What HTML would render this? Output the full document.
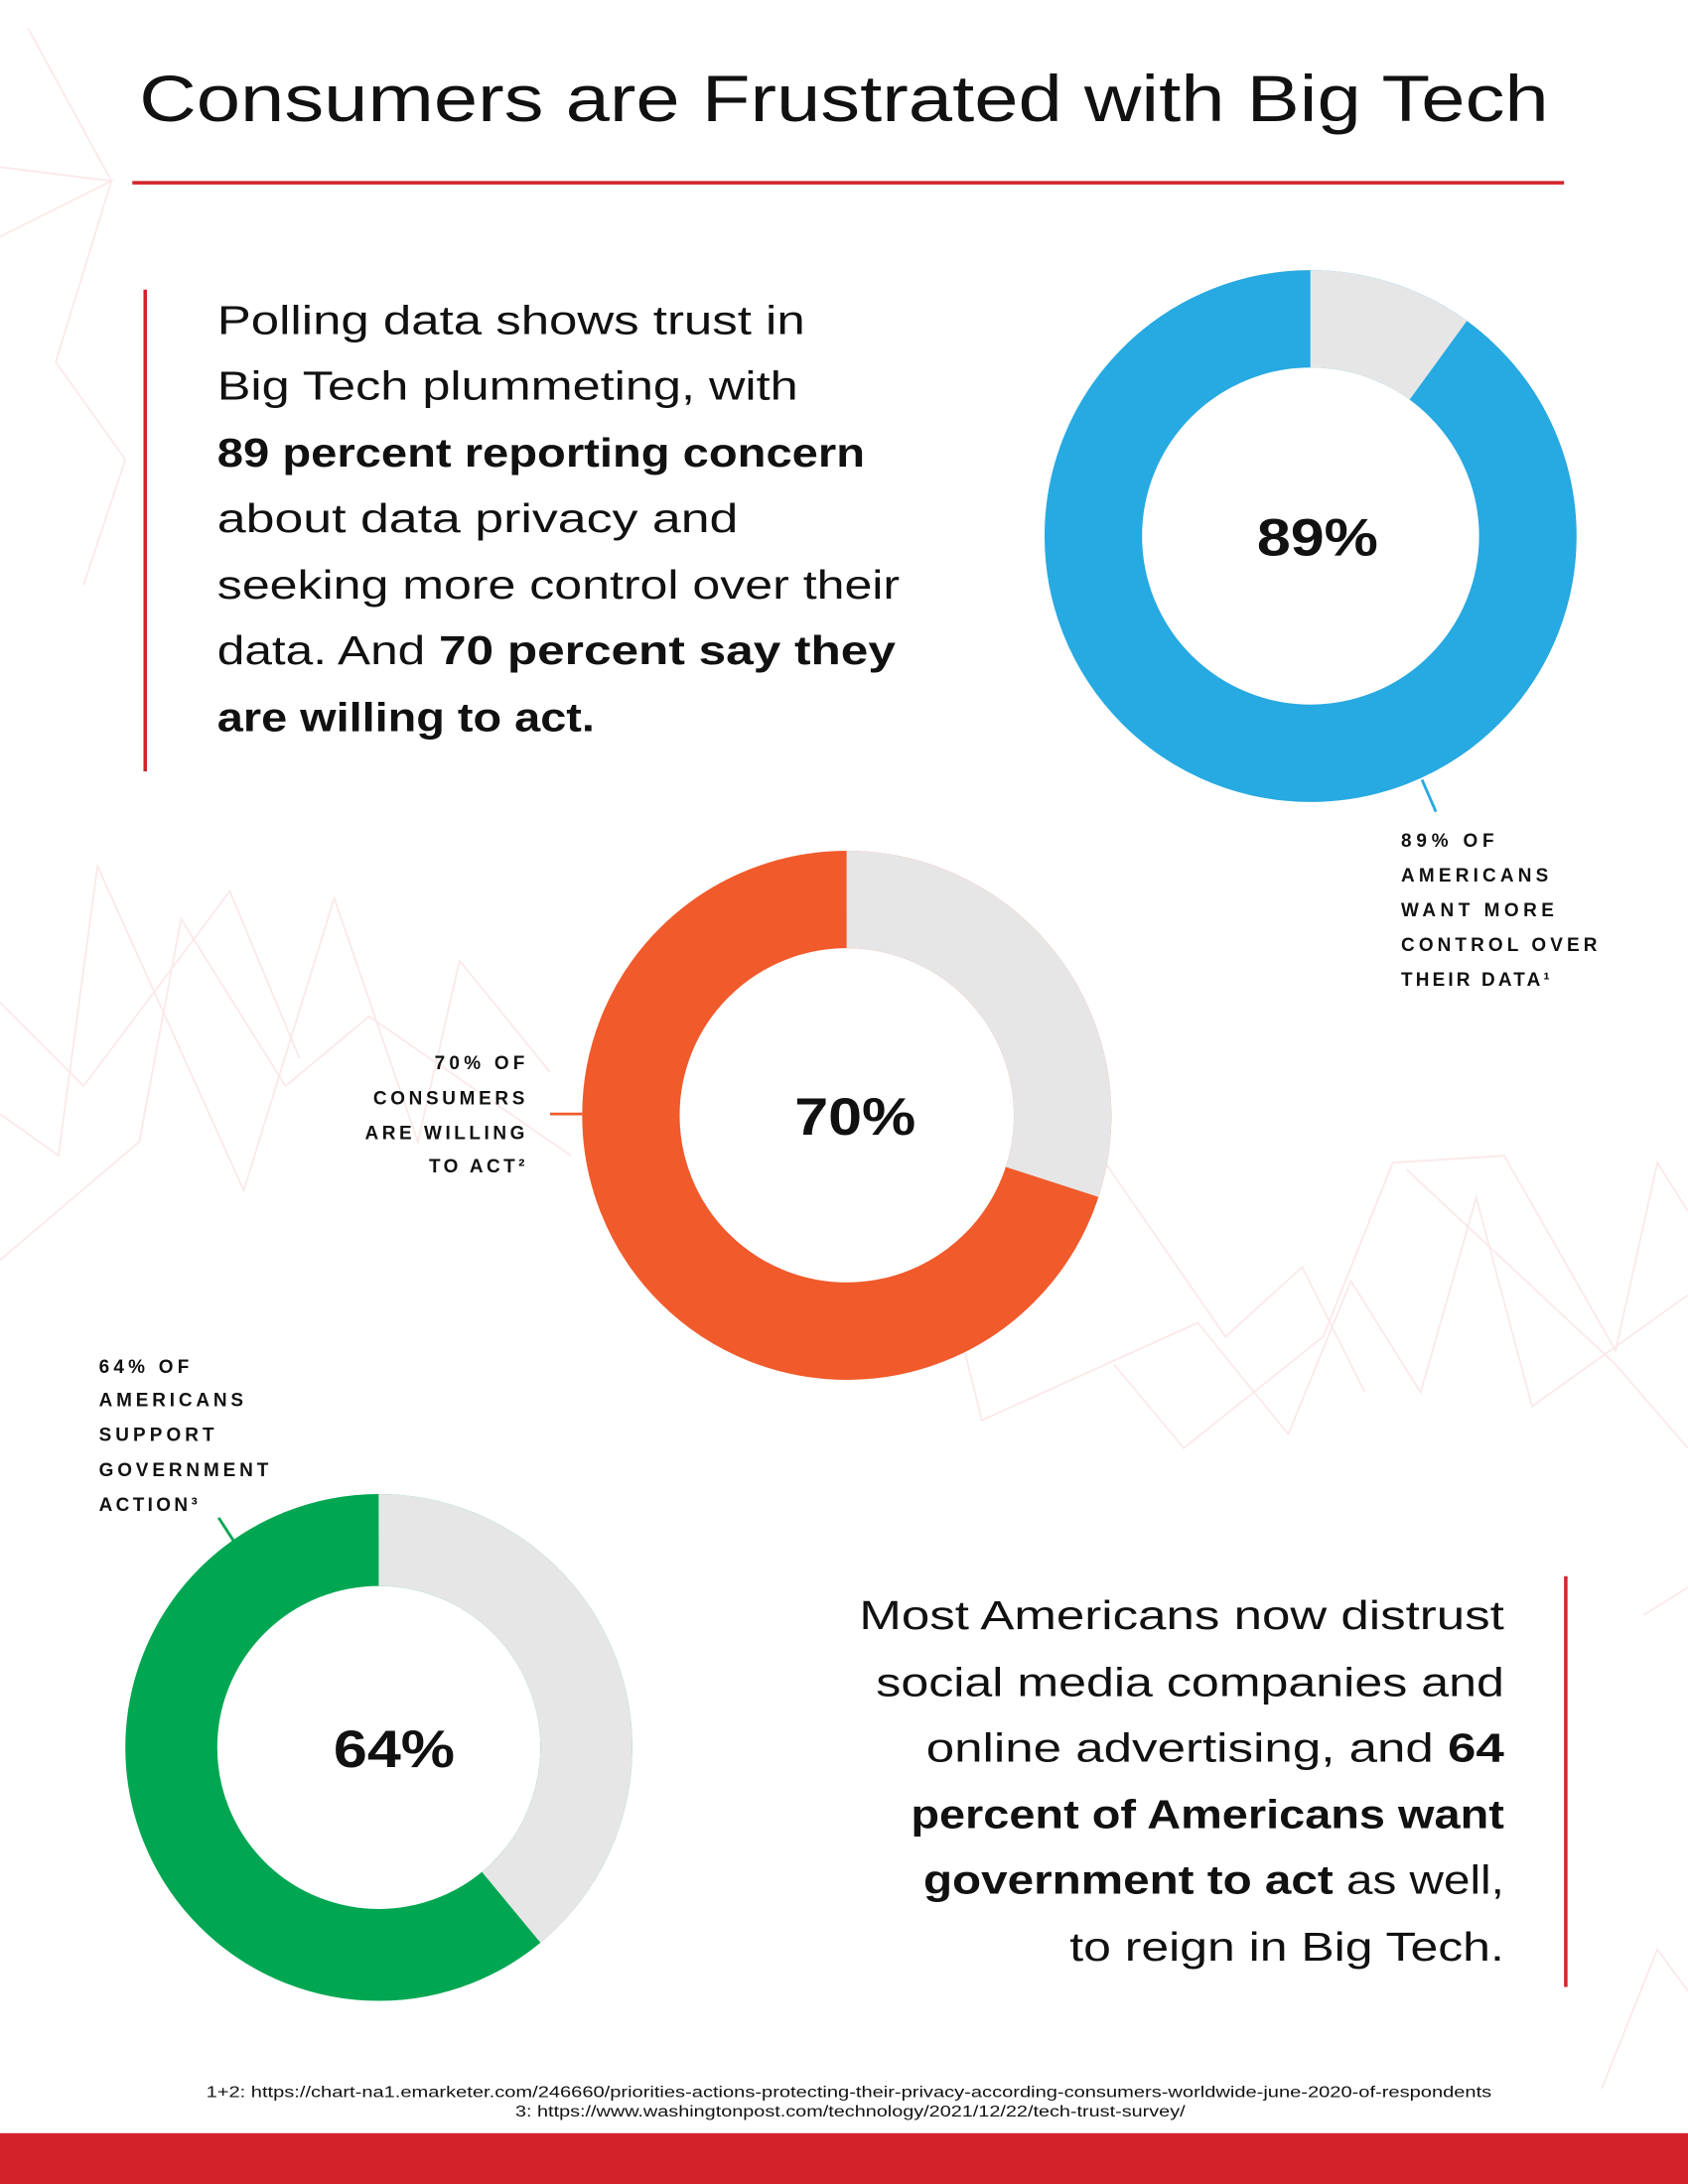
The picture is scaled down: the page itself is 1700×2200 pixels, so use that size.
<!DOCTYPE html>
<html><head><meta charset="utf-8">
<style>
html,body{margin:0;padding:0;background:#fff;}
svg{display:block;}
text{font-family:"Liberation Sans",sans-serif;fill:#111;}
.p{font-size:29px;}
.b{font-weight:bold;}
.lab{font-size:13.5px;font-weight:bold;letter-spacing:1.3px;}
.big{font-size:38px;font-weight:600;}
</style></head><body>
<svg width="1700" height="2200" viewBox="0 0 1212 1568.5" preserveAspectRatio="none" xmlns="http://www.w3.org/2000/svg">
<rect width="1212" height="1568.5" fill="#fff"/>
<g fill="none" stroke="#fbe9e9" stroke-width="1.3">
<polyline points="0,170 80,130 0,120"/>
<polyline points="20,20 80,130 40,260 90,330 60,420"/>
<polyline points="0,800 42,830 70,622 175,855 240,645 300,820 330,690 395,770"/>
<polyline points="0,905 100,820 130,660 205,780 265,730 410,830"/>
<polyline points="0,720 60,780 165,640 215,760"/>
<polyline points="690,960 705,1020 860,950 925,1030 970,920 1020,1000 1060,860 1100,1010 1212,930"/>
<polyline points="800,980 850,1040 950,960 1000,835 1080,830 1160,970 1190,835 1212,870"/>
<polyline points="1010,840 1160,980 1212,1040"/>
<polyline points="790,830 880,960 935,910 980,1000"/>
<polyline points="1180,1160 1212,1140"/>
<polyline points="1150,1500 1190,1400 1212,1430"/>
</g>
<text x="100" y="87" style="font-size:47px;" textLength="1012" lengthAdjust="spacingAndGlyphs">Consumers are Frustrated with Big Tech</text>
<rect x="95" y="130" width="1028" height="2.5" fill="#d2232a"/>
<rect x="103" y="208" width="2.5" height="346" fill="#d2232a"/>
<rect x="1123" y="1132" width="2.5" height="295" fill="#d2232a"/>
<g class="p">
<text x="156" y="240" textLength="422" lengthAdjust="spacingAndGlyphs">Polling data shows trust in</text>
<text x="156" y="287" textLength="417" lengthAdjust="spacingAndGlyphs">Big Tech plummeting, with</text>
<text x="156" y="335" class="b" textLength="465" lengthAdjust="spacingAndGlyphs">89 percent reporting concern</text>
<text x="156" y="382" textLength="374" lengthAdjust="spacingAndGlyphs">about data privacy and</text>
<text x="156" y="430" textLength="490" lengthAdjust="spacingAndGlyphs">seeking more control over their</text>
<text x="156" y="477" textLength="487" lengthAdjust="spacingAndGlyphs">data. And <tspan class="b">70 percent say they</tspan></text>
<text x="156" y="525" class="b" textLength="271" lengthAdjust="spacingAndGlyphs">are willing to act.</text>
</g>
<g class="p" text-anchor="end">
<text x="1080" y="1170" textLength="463" lengthAdjust="spacingAndGlyphs">Most Americans now distrust</text>
<text x="1080" y="1218" textLength="451" lengthAdjust="spacingAndGlyphs">social media companies and</text>
<text x="1080" y="1265" textLength="415" lengthAdjust="spacingAndGlyphs">online advertising, and <tspan class="b">64</tspan></text>
<text x="1080" y="1313" class="b" textLength="426" lengthAdjust="spacingAndGlyphs">percent of Americans want</text>
<text x="1080" y="1360" textLength="417" lengthAdjust="spacingAndGlyphs"><tspan class="b">government to act</tspan> as well,</text>
<text x="1080" y="1408" textLength="312" lengthAdjust="spacingAndGlyphs">to reign in Big Tech.</text>
</g>
<!-- donut 1 -->
<circle cx="941" cy="385" r="156" fill="none" stroke="#27a9e1" stroke-width="70"/>
<circle cx="941" cy="385" r="156" fill="none" stroke="#e6e6e6" stroke-width="70" pathLength="100" stroke-dasharray="10 90" transform="rotate(-90 941 385)"/>
<text x="946" y="399" text-anchor="middle" class="big" textLength="87" lengthAdjust="spacingAndGlyphs">89%</text>
<line x1="1021" y1="560" x2="1031" y2="583" stroke="#27a9e1" stroke-width="2"/>
<g class="lab"><text x="1006" y="608" textLength="68">89% OF</text><text x="1006" y="633" textLength="107">AMERICANS</text><text x="1006" y="658" textLength="111">WANT MORE</text><text x="1006" y="683" textLength="142">CONTROL OVER</text><text x="1006" y="708" textLength="108">THEIR DATA¹</text></g>
<!-- donut 2 -->
<circle cx="608" cy="801" r="155" fill="none" stroke="#f15a2b" stroke-width="70"/>
<circle cx="608" cy="801" r="155" fill="none" stroke="#e6e6e6" stroke-width="70" pathLength="100" stroke-dasharray="30 70" transform="rotate(-90 608 801)"/>
<text x="614" y="815" text-anchor="middle" class="big" textLength="87" lengthAdjust="spacingAndGlyphs">70%</text>
<line x1="395" y1="800" x2="418" y2="800" stroke="#f15a2b" stroke-width="2"/>
<g class="lab" text-anchor="end"><text x="378" y="768" textLength="66">70% OF</text><text x="378" y="793" textLength="110">CONSUMERS</text><text x="378" y="818" textLength="116">ARE WILLING</text><text x="378" y="842" textLength="70">TO ACT²</text></g>
<!-- donut 3 -->
<circle cx="272" cy="1255" r="149" fill="none" stroke="#00a651" stroke-width="66"/>
<circle cx="272" cy="1255" r="149" fill="none" stroke="#e6e6e6" stroke-width="66" pathLength="100" stroke-dasharray="39 61" transform="rotate(-90 272 1255)"/>
<text x="283" y="1269" text-anchor="middle" class="big" textLength="87" lengthAdjust="spacingAndGlyphs">64%</text>
<line x1="157" y1="1090" x2="168" y2="1107" stroke="#00a651" stroke-width="2"/>
<g class="lab"><text x="71" y="986" textLength="66">64% OF</text><text x="71" y="1010" textLength="105">AMERICANS</text><text x="71" y="1035" textLength="84">SUPPORT</text><text x="71" y="1060" textLength="123">GOVERNMENT</text><text x="71" y="1085" textLength="72">ACTION³</text></g>
<g style="font-size:11px">
<text x="148" y="1506" textLength="923" lengthAdjust="spacingAndGlyphs">1+2: https://chart-na1.emarketer.com/246660/priorities-actions-protecting-their-privacy-according-consumers-worldwide-june-2020-of-respondents</text>
<text x="370" y="1520" textLength="481" lengthAdjust="spacingAndGlyphs">3: https://www.washingtonpost.com/technology/2021/12/22/tech-trust-survey/</text>
</g>
<rect x="0" y="1532" width="1212" height="37" fill="#d2232a"/>
</svg>
</body></html>
